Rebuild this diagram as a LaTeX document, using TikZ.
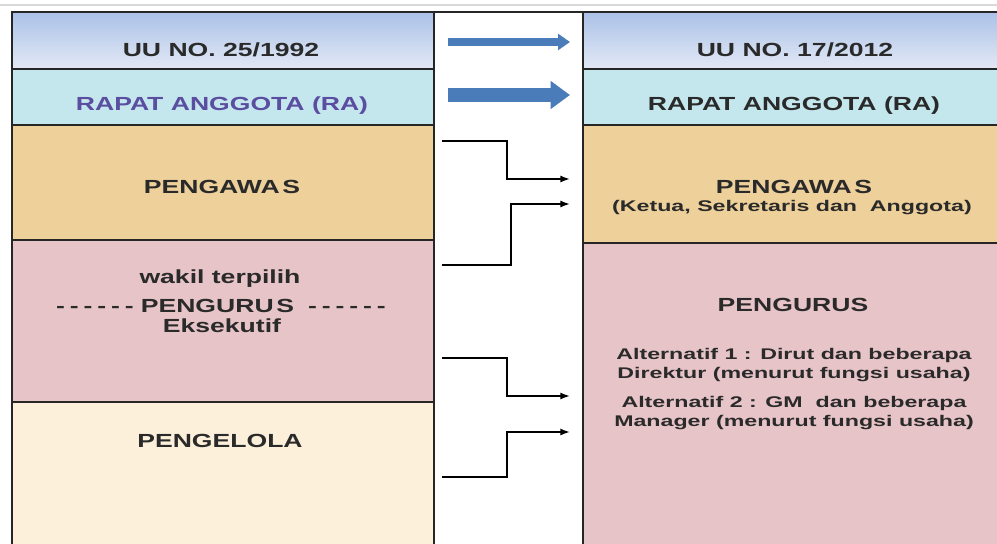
\documentclass[tikz,border=0pt]{standalone}
\usepackage{fontspec}
\usepackage{tikz}
\usetikzlibrary{arrows.meta}
\newfontfamily\tabfont{Liberation Sans}[FakeStretch=1.4]
\newfontfamily\notefont{Liberation Sans}[FakeStretch=1.5]
\newcommand\dashrun{-\kern2.8pt-\kern2.8pt-\kern2.8pt-\kern2.8pt-\kern2.8pt-}
\definecolor{hdrtop}{HTML}{ABC1E7}
\definecolor{hdrbot}{HTML}{E2E9F6}
\definecolor{racyan}{HTML}{C4E7EE}
\definecolor{tancol}{HTML}{EDD09A}
\definecolor{pinkcol}{HTML}{E7C4C7}
\definecolor{creamcol}{HTML}{FCF0DA}
\definecolor{rapurple}{HTML}{5B4DA0}
\definecolor{arrowblue}{HTML}{4A7CBA}
\definecolor{inkcol}{HTML}{2A2A2A}

\begin{document}
\begin{tikzpicture}[
x=0.02cm, y=-0.02cm,
cell/.style={
  draw=black!85,
  line width=1pt,
  anchor=north west,
  inner sep=0pt,
  outer sep=0pt,
  minimum width=422*0.02cm
  },
title/.style={font=\tabfont\bfseries\fontsize{10.8}{12.5}\selectfont, text=inkcol, align=center},
note/.style={font=\notefont\bfseries\fontsize{8.8}{10.8}\selectfont, text=inkcol, align=center},
elbow/.style={draw=black, line width=0.9pt, -{Latex[length=5.5pt,width=4pt]}},
movearrow/.style={draw=arrowblue, line width=#1}
]
\clip (0,0) rectangle (997,544);
\fill[white] (0,0) rectangle (997,544);
\draw[black!15, line width=0.8pt] (0,5) -- (997,5);

\node[cell, top color=hdrtop, bottom color=hdrbot, minimum height=57*0.02cm] (lhead) at (12,12) {};
\node[cell, fill=racyan, minimum height=56*0.02cm] (lra) at (12,69) {};
\node[cell, fill=tancol, minimum height=115*0.02cm] (lawas) at (12,125) {};
\node[cell, fill=pinkcol, minimum height=162*0.02cm] (lurus) at (12,240) {};
\node[cell, fill=creamcol, minimum height=160*0.02cm] (lelola) at (12,402) {};

\node[cell, top color=hdrtop, bottom color=hdrbot, minimum height=57*0.02cm] (rhead) at (583,12) {};
\node[cell, fill=racyan, minimum height=56*0.02cm] (rra) at (583,69) {};
\node[cell, fill=tancol, minimum height=118*0.02cm] (rawas) at (583,125) {};
\node[cell, fill=pinkcol, minimum height=320*0.02cm] (rurus) at (583,243) {};
\draw[black!85, line width=1pt] (lhead.north east) -- (rhead.north west);

\node[title] (uulama) at (221,50) {UU NO. 25/1992};
\node[title] (uubaru) at (795,50) {UU NO. 17/2012};
\node[title, text=rapurple] (ralama) at (222,106) {RAPAT ANGGOTA (RA)};
\node[title] (rabaru) at (794,106) {RAPAT ANGGOTA (RA)};
\node[title] (awaslama) at (222,187) {PENGAWA\kern1.5pt S};
\node[title] (awasbaru) at (794,187) {PENGAWA\kern1.5pt S};
\node[note] (awasisi) at (792,208) {(Ketua, Sekretaris dan\ \ Anggota)};
\node[title] (wakil) at (220,279) {wakil terpilih};
\node[title] (uruslama) at (221,306) {\dashrun\kern4pt PENGURU\kern1.5pt S\kern8pt\dashrun};
\node[title] (eksekutif) at (222,326) {Eksekutif};
\node[title] (elola) at (220,441) {PENGELOLA};
\node[title] (urusbaru) at (793,305) {PENGURUS};
\node[note] (alt1) at (794,365) {Alternatif 1 : Dirut dan beberapa\\Direktur (menurut fungsi usaha)};
\node[note] (alt2) at (794,413) {Alternatif 2 : GM\ \ dan beberapa\\Manager (menurut fungsi usaha)};

\coordinate (hdrin) at (448,42);
\coordinate (hdrout) at (570,42);
\coordinate (rain) at (448,95);
\coordinate (raout) at (570,95);
\draw[movearrow=5.1pt, -{Triangle[length=6.8pt,width=9pt]}] (hdrin) -- (hdrout);
\draw[movearrow=8.5pt, -{Triangle[length=11pt,width=15.3pt]}] (rain) -- (raout);

\foreach \sy/\ey/\kx/\nm in {141/179/507/a, 265/204/511/b, 358/396/507/c, 477/432/507/d}{
  \coordinate (in\nm) at (442,\sy);
  \coordinate (out\nm) at (570,\ey);
  \draw[elbow] (in\nm) -- (\kx,\sy) |- (out\nm);
}
\end{tikzpicture}
\end{document}
